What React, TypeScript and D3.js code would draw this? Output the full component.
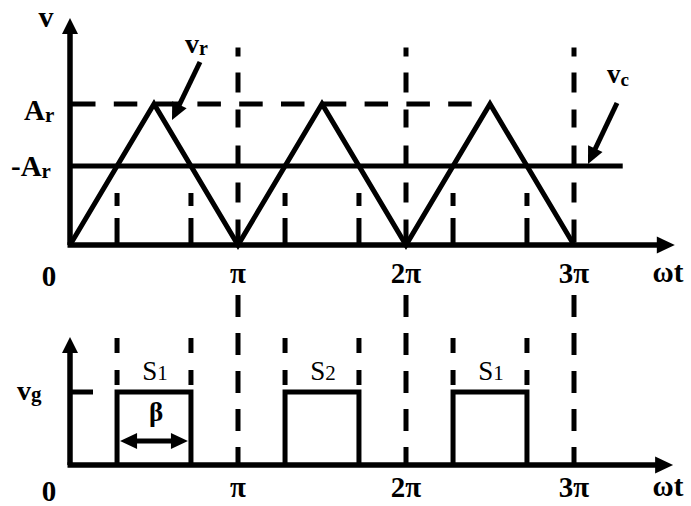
import React from "react";
import * as d3 from "d3";

// time values are in units of π
const periodTicks = [0, 1, 2, 3];
const periodLabels = ["0", "π", "2π", "3π"];
const refTimes = [0, 0.5, 1, 1.5, 2, 2.5, 3];
const refValues = [0, 1, 0, 1, 0, 1, 0];
const carrierLevel = 0.56;
const crossTimes = [0.28, 0.72, 1.28, 1.72, 2.28, 2.72];
const pulseStarts = [0.28, 1.28, 2.28];
const pulseEnds = [0.72, 1.72, 2.72];
const pulseNames = ["1", "2", "1"];
const gateLevel = 1;

const W = 691;
const H = 506;
const FONT = "'Liberation Serif', 'Times New Roman', serif";
const SW = 5;

const x = d3.scaleLinear().domain([0, 3]).range([70, 574]);
const yTop = d3.scaleLinear().domain([0, 1]).range([245, 104]);
const yBot = d3.scaleLinear().domain([0, 1]).range([465, 392]);

const arrowHead = (x1: number, y1: number, x2: number, y2: number, len = 16, half = 7.5) => {
  const a = Math.atan2(y2 - y1, x2 - x1);
  const bx = x2 - len * Math.cos(a);
  const by = y2 - len * Math.sin(a);
  const px = -Math.sin(a) * half;
  const py = Math.cos(a) * half;
  return `M${x2},${y2}L${bx + px},${by + py}L${bx - px},${by - py}Z`;
};

const Arrow = ({ x1, y1, x2, y2, w = SW, len = 16, half = 7.5 }: any) => {
  const a = Math.atan2(y2 - y1, x2 - x1);
  return (
    <g>
      <line x1={x1} y1={y1} x2={x2 - (len - 2) * Math.cos(a)} y2={y2 - (len - 2) * Math.sin(a)} stroke="#000" strokeWidth={w} />
      <path d={arrowHead(x1, y1, x2, y2, len, half)} fill="#000" />
    </g>
  );
};

const App = () => {
  const refLine = d3
    .line<number>()
    .x((_, i) => x(refTimes[i]))
    .y((d) => yTop(d));

  const bold = { fontFamily: FONT, fontWeight: 700 as const };

  return (
    <svg width={W} height={H} style={{ position: "absolute", left: 0, top: 0, background: "#fff" }}>
      {/* ---------- top panel ---------- */}
      {/* vertical dashed lines at π, 2π, 3π */}
      {periodTicks.slice(1).map((t) => (
        <line key={"vt" + t} x1={x(t)} x2={x(t)} y1={yTop(1.4)} y2={yTop(0)} stroke="#000" strokeWidth={5} strokeDasharray="9,16,20,17,18,18,19,18,20,17,23" />
      ))}
      {/* crossing dashed lines */}
      {crossTimes.map((t) => (
        <line key={"ct" + t} x1={x(t)} x2={x(t)} y1={yTop(carrierLevel)} y2={yTop(0)} stroke="#000" strokeWidth={SW} strokeDasharray="0,27,13,12,26" />
      ))}
      {/* A_r dashed level */}
      <line x1={72} x2={474} y1={yTop(1)} y2={yTop(1)} stroke="#000" strokeWidth={5} strokeDasharray="23.5,18.3" />
      {/* carrier */}
      <line x1={x(0)} x2={x(3.29)} y1={yTop(carrierLevel)} y2={yTop(carrierLevel)} stroke="#000" strokeWidth={SW} />
      {/* reference triangle */}
      <path d={refLine(refValues) || ""} fill="none" stroke="#000" strokeWidth={SW} strokeLinejoin="miter" />
      {/* axes */}
      <Arrow x1={x(0)} y1={yTop(0)} x2={x(0)} y2={18} w={5.5} len={16} half={8} />
      <Arrow x1={x(0) - 2.5} y1={yTop(0)} x2={x(3.6)} y2={yTop(0)} w={5.5} len={18} half={8.5} />

      {/* labels */}
      <text x={46} y={27} fontSize={30} textAnchor="middle" {...bold}>v</text>
      <text x={185} y={53} fontSize={28} {...bold}>
        v<tspan fontSize={20} dy={2}>r</tspan>
      </text>
      <Arrow x1={200} y1={62} x2={172} y2={120} len={17} half={8} />
      <text x={24} y={120} fontSize={29} {...bold}>
        A<tspan fontSize={21} dy={2}>r</tspan>
      </text>
      <text x={11} y={176} fontSize={29} {...bold}>
        -A<tspan fontSize={21} dy={2}>r</tspan>
      </text>
      <text x={607} y={83} fontSize={27} {...bold}>
        v<tspan fontSize={19} dy={3}>c</tspan>
      </text>
      <Arrow x1={617} y1={103} x2={588} y2={164} len={17} half={8} />

      {periodTicks.map((t, i) => (
        <text key={"tl" + t} x={i === 0 ? 49 : x(t)} y={i === 0 ? 286 : 283} fontSize={29} textAnchor="middle" {...bold}>
          {periodLabels[i]}
        </text>
      ))}
      <text x={668} y={282} fontSize={29} textAnchor="middle" {...bold}>ωt</text>

      {/* ---------- bottom panel ---------- */}
      {periodTicks.slice(1).map((t) => (
        <line key={"vb" + t} x1={x(t)} x2={x(t)} y1={295} y2={yBot(0)} stroke="#000" strokeWidth={5} strokeDasharray="22,16" />
      ))}
      {crossTimes.map((t) => (
        <line key={"cb" + t} x1={x(t)} x2={x(t)} y1={338} y2={yBot(gateLevel)} stroke="#000" strokeWidth={SW} strokeDasharray="15,17" />
      ))}
      {pulseStarts.map((s, i) => (
        <path
          key={"p" + i}
          d={`M${x(s)},${yBot(0)}V${yBot(gateLevel)}H${x(pulseEnds[i])}V${yBot(0)}`}
          fill="none"
          stroke="#000"
          strokeWidth={SW}
        />
      ))}
      {pulseStarts.map((s, i) => (
        <text key={"pl" + i} x={(x(s) + x(pulseEnds[i])) / 2 + 1} y={380} fontSize={27} textAnchor="middle" fontFamily={FONT}>
          S<tspan fontSize={21}>{pulseNames[i]}</tspan>
        </text>
      ))}
      {/* β double arrow */}
      <g>
        <line x1={x(pulseStarts[0]) + 14} x2={x(pulseEnds[0]) - 14} y1={441} y2={441} stroke="#000" strokeWidth={SW} />
        <path d={arrowHead(x(pulseEnds[0]), 441, x(pulseStarts[0]) + 3, 441, 17, 8)} fill="#000" />
        <path d={arrowHead(x(pulseStarts[0]), 441, x(pulseEnds[0]) - 3, 441, 17, 8)} fill="#000" />
      </g>
      <text x={(x(pulseStarts[0]) + x(pulseEnds[0])) / 2 + 2} y={421} fontSize={27} textAnchor="middle" {...bold}>β</text>

      {/* gate level tick */}
      <line x1={x(0)} x2={93} y1={yBot(gateLevel)} y2={yBot(gateLevel)} stroke="#000" strokeWidth={SW} />
      {/* axes */}
      <Arrow x1={x(0)} y1={yBot(0)} x2={x(0)} y2={337} w={5.5} len={16} half={8} />
      <Arrow x1={x(0) - 2.5} y1={yBot(0)} x2={x(3.59)} y2={yBot(0)} w={5.5} len={18} half={8.5} />

      <text x={17} y={400} fontSize={28} {...bold}>
        v<tspan fontSize={21} dy={1}>g</tspan>
      </text>
      {periodTicks.map((t, i) => (
        <text key={"bl" + t} x={i === 0 ? 49 : x(t)} y={i === 0 ? 501 : 497} fontSize={29} textAnchor="middle" {...bold}>
          {periodLabels[i]}
        </text>
      ))}
      <text x={668} y={496} fontSize={29} textAnchor="middle" {...bold}>ωt</text>
    </svg>
  );
};

export default App;
